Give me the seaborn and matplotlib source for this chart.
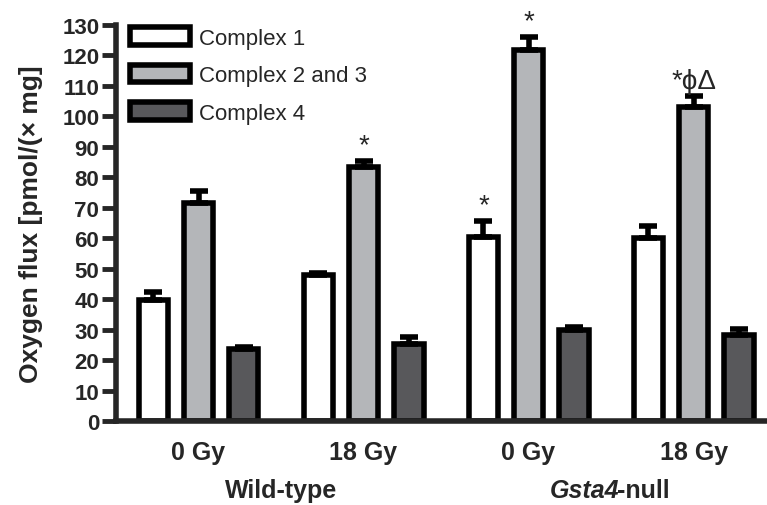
import numpy as np
import pandas as pd
import seaborn as sns
import matplotlib.pyplot as plt
from matplotlib.patches import Patch

# data
conditions = ["WT 0 Gy", "WT 18 Gy", "KO 0 Gy", "KO 18 Gy"]
tick_labels = ["0 Gy", "18 Gy", "0 Gy", "18 Gy"]
complexes = ["Complex 1", "Complex 2 and 3", "Complex 4"]
complex1 = [39.8, 47.8, 60.3, 60.2]
complex23 = [71.5, 83.5, 121.7, 103.0]
complex4 = [23.6, 25.4, 30.0, 28.3]
complex1_err = [2.6, 0.8, 5.4, 3.8]
complex23_err = [4.0, 2.0, 4.5, 3.6]
complex4_err = [0.8, 2.1, 1.0, 2.0]
colors = ["#ffffff", "#b4b6b9", "#58585b"]
# significance marks: (condition index, complex index, text)
marks = [(1, 1, "*"), (2, 0, "*"), (2, 1, "*"), (3, 1, "*\u03d5\u0394")]

df = pd.DataFrame({
    "condition": np.repeat(conditions, 3),
    "complex": complexes * 4,
    "flux": [v for trip in zip(complex1, complex23, complex4) for v in trip],
    "err": [v for trip in zip(complex1_err, complex23_err, complex4_err) for v in trip],
})

sns.set_style("ticks")
plt.rcParams["font.family"] = ["Liberation Sans", "DejaVu Sans"]

fig = plt.figure(figsize=(7.67, 5.06), dpi=100)
ax = fig.add_axes([116 / 767, 84 / 506, 651 / 767, 396 / 506])

sns.barplot(data=df, x="condition", y="flux", hue="complex", order=conditions,
            hue_order=complexes, palette=colors, errorbar=None, width=0.82,
            gap=0.34, edgecolor="black", linewidth=4, legend=False, ax=ax,
            saturation=1)

# one-sided error bars on top of every bar
bars = sorted(ax.patches, key=lambda p: p.get_x())
xs = [p.get_x() + p.get_width() / 2 for p in bars]
ax.errorbar(xs, df["flux"], yerr=[np.zeros(len(df)), df["err"]], fmt="none",
            ecolor="black", elinewidth=4, capsize=6.5, capthick=4, zorder=1)

for ci, ki, txt in marks:
    i = ci * 3 + ki
    ax.annotate(txt, (xs[i], df["flux"][i] + df["err"][i]), xytext=(0, 2),
                textcoords="offset points", ha="center", va="bottom", fontsize=20)

ax.set_xlim(-0.5, 3.445)
ax.set_ylim(0, 130)
ax.set_yticks(range(0, 131, 10))
ax.set_xticks(range(4))
ax.set_xticklabels(tick_labels, fontsize=18, fontweight="bold")
ax.tick_params(axis="x", length=0, pad=14)
ax.tick_params(axis="y", length=10, width=3.5, labelsize=16, pad=2)
for lab in ax.get_yticklabels():
    lab.set_fontweight("bold")
ax.set_xlabel("")
ax.set_ylabel("Oxygen flux [pmol/(\u00d7 mg]", fontsize=19, fontweight="bold", labelpad=14)
sns.despine(ax=ax)
for s in ("left", "bottom"):
    ax.spines[s].set_linewidth(4)

# group labels under the x tick labels
ax.text(0.5, -0.175, "Wild-type", transform=ax.get_xaxis_transform(),
        ha="center", va="center", fontsize=18, fontweight="bold")
t1 = ax.text(2.55, -0.175, "Gsta4", transform=ax.get_xaxis_transform(),
             ha="right", va="center", fontsize=18, fontweight="bold", style="italic")
ax.annotate("-null", xy=(1, 0), xycoords=t1, xytext=(-2, 0), textcoords="offset points",
            ha="left", va="bottom", fontsize=18, fontweight="bold")

handles = [Patch(facecolor=c, edgecolor="black", linewidth=4) for c in colors]
fig.legend(handles, complexes, loc="upper left", bbox_to_anchor=(130 / 767, 1 - 28 / 506),
           frameon=False, fontsize=16, handlelength=2.7, handleheight=0.85,
           handletextpad=0.4, labelspacing=0.72, borderpad=0, borderaxespad=0)

fig.savefig("out.png", dpi=100)
